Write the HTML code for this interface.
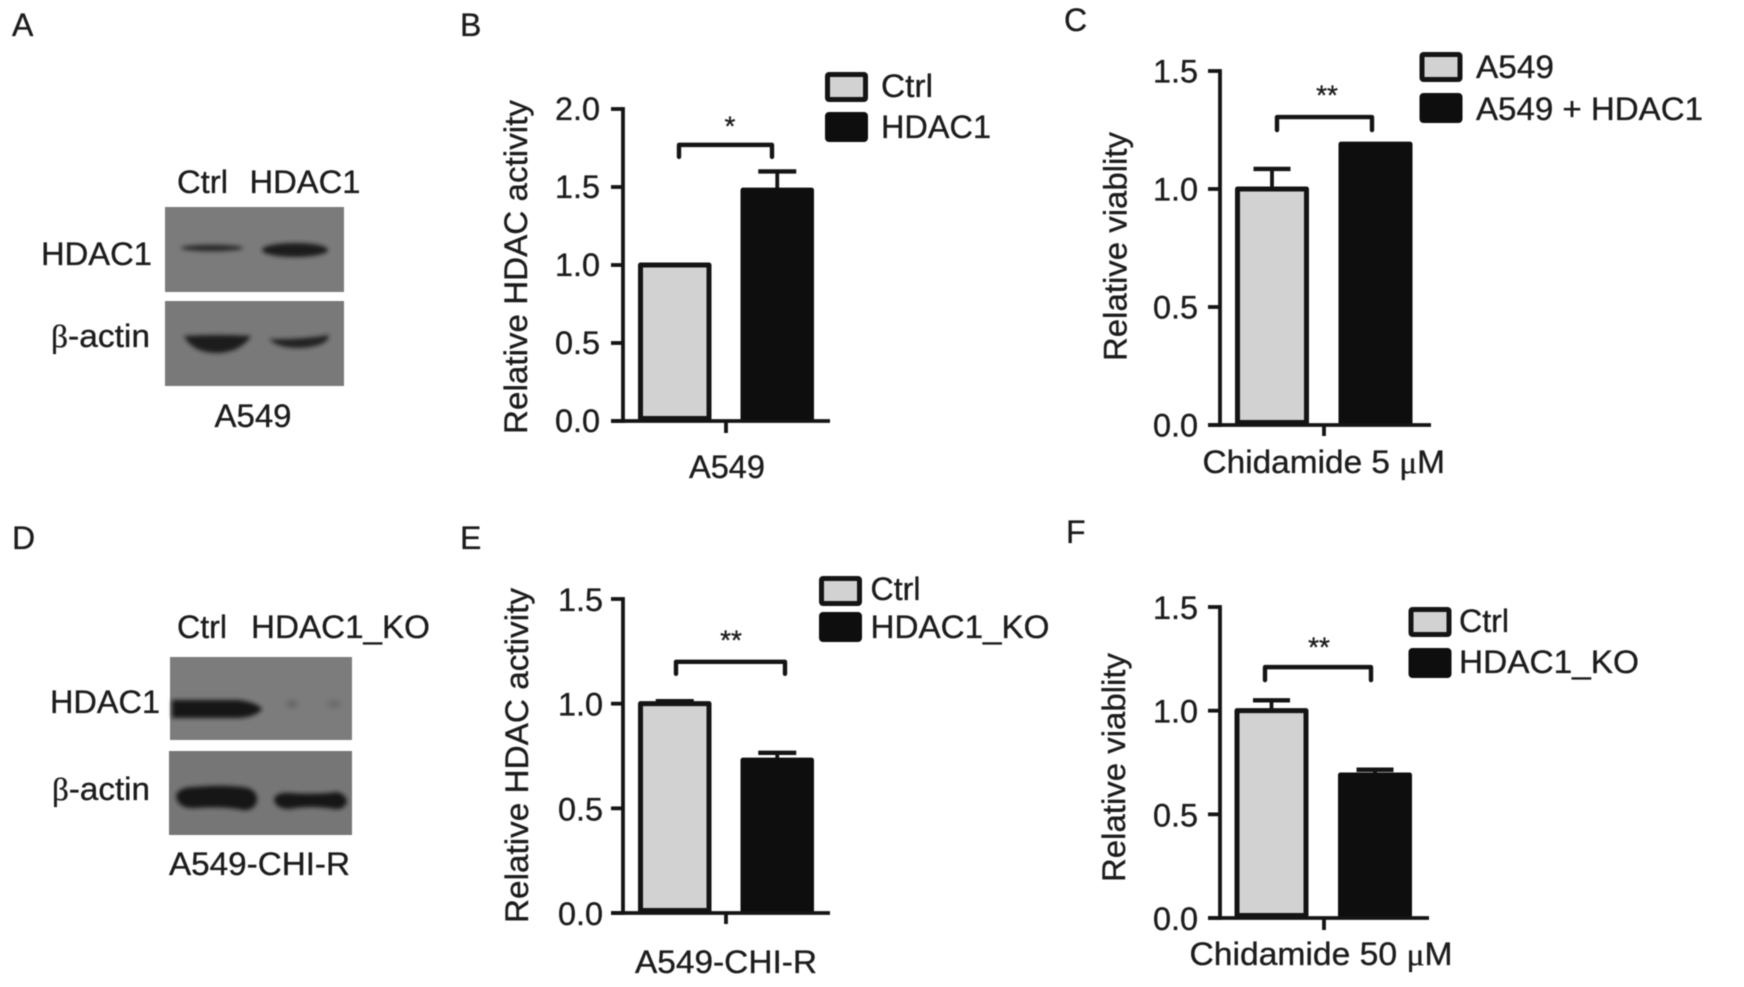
<!DOCTYPE html>
<html lang="en">
<head>
<meta charset="utf-8">
<title>HDAC1 activity and viability figure</title>
<style>
html,body{margin:0;padding:0;background:#fff;width:1744px;height:987px;overflow:hidden}
#figure{position:absolute;left:0;top:0;filter:blur(0.6px)}
text{font-family:"Liberation Sans",sans-serif;fill:#1c1c1c;font-size:32px;stroke:#1c1c1c;stroke-width:0.35px}
.serif{font-family:"Liberation Serif",serif}
</style>
</head>
<body>
<svg id="figure" xmlns="http://www.w3.org/2000/svg" width="1744" height="987" viewBox="0 0 1744 987">
  <defs>
    <filter id="bandBlur" x="-30%" y="-80%" width="160%" height="260%"><feGaussianBlur stdDeviation="2"/></filter>
    <filter id="faintBlur" x="-80%" y="-80%" width="260%" height="260%"><feGaussianBlur stdDeviation="3"/></filter>
  </defs>

  <g>
    <text x="12" y="36">A</text>
    <text x="460" y="36">B</text>
    <text x="1064" y="31">C</text>
    <text x="12" y="549">D</text>
    <text x="460" y="549">E</text>
    <text x="1066" y="543">F</text>
  </g>

  <g>
    <text x="177" y="193" textLength="51" lengthAdjust="spacingAndGlyphs">Ctrl</text>
    <text x="249.5" y="193" textLength="111" lengthAdjust="spacingAndGlyphs">HDAC1</text>
    <text x="41" y="265" textLength="111" lengthAdjust="spacingAndGlyphs">HDAC1</text>
    <text x="51" y="347" textLength="99" lengthAdjust="spacingAndGlyphs"><tspan class="serif">β</tspan>-actin</text>
    <text x="214.5" y="427" textLength="77" lengthAdjust="spacingAndGlyphs">A549</text>
    <rect x="165" y="207" width="179" height="85" fill="#7b7b7b"/>
    <rect x="165" y="301" width="179" height="85" fill="#797979"/>
    <ellipse cx="212" cy="248" rx="31" ry="3.4" fill="#2c2c2c" filter="url(#bandBlur)"/>
    <ellipse cx="295" cy="250" rx="33" ry="7" fill="#1a1a1a" filter="url(#bandBlur)"/>
    <path d="M184 336 Q217 334 251 336 Q240 353 215 353 Q192 352 184 336Z" fill="#1a1a1a" filter="url(#bandBlur)"/>
    <path d="M269 339 Q298 340 329 335 Q328 347 298 348 Q278 348 269 339Z" fill="#222" filter="url(#bandBlur)"/>
  </g>

  <g>
    <text x="177" y="638" textLength="50" lengthAdjust="spacingAndGlyphs">Ctrl</text>
    <text x="251" y="638" textLength="179" lengthAdjust="spacingAndGlyphs">HDAC1_KO</text>
    <text x="50" y="713" textLength="110" lengthAdjust="spacingAndGlyphs">HDAC1</text>
    <text x="52" y="800" textLength="98" lengthAdjust="spacingAndGlyphs"><tspan class="serif">β</tspan>-actin</text>
    <text x="169" y="875" textLength="181" lengthAdjust="spacingAndGlyphs">A549-CHI-R</text>
    <rect x="170" y="657" width="182" height="83" fill="#7c7c7c"/>
    <rect x="169" y="751" width="183" height="84" fill="#767676"/>
    <path d="M172 700 H238 Q256 702 262 709 Q256 717 238 718 H172Z" fill="#171717" filter="url(#bandBlur)"/>
    <ellipse cx="292" cy="704" rx="5" ry="3" fill="#5c5c5c" filter="url(#faintBlur)"/>
    <ellipse cx="334" cy="704" rx="7" ry="3" fill="#666" filter="url(#faintBlur)"/>
    <path d="M176 796 Q178 787 195 787 Q225 784 248 788 Q258 792 257 801 Q254 811 243 810 Q225 806 195 808 Q178 809 176 796Z" fill="#161616" filter="url(#bandBlur)"/>
    <path d="M274 800 Q275 792 290 793 Q315 795 338 792 Q347 796 347 802 Q344 810 335 809 Q310 805 290 809 Q276 809 274 800Z" fill="#181818" filter="url(#bandBlur)"/>
  </g>

  <g id="charts"></g>
</svg>

<script>
const panelBCategories = ['Ctrl', 'HDAC1'];
const panelBValues = [1.0, 1.48];
const panelBErrors = [0.0, 0.12];
const panelBTicks = ['0.0', '0.5', '1.0', '1.5', '2.0'];

const panelCCategories = ['A549', 'A549 + HDAC1'];
const panelCValues = [1.0, 1.19];
const panelCErrors = [0.085, 0.0];
const panelCTicks = ['0.0', '0.5', '1.0', '1.5'];

const panelECategories = ['Ctrl', 'HDAC1_KO'];
const panelEValues = [1.0, 0.73];
const panelEErrors = [0.012, 0.035];
const panelETicks = ['0.0', '0.5', '1.0', '1.5'];

const panelFCategories = ['Ctrl', 'HDAC1_KO'];
const panelFValues = [1.0, 0.69];
const panelFErrors = [0.05, 0.025];
const panelFTicks = ['0.0', '0.5', '1.0', '1.5'];

const panels = [
  {
    id: 'b', categories: panelBCategories, values: panelBValues, errors: panelBErrors, ticks: panelBTicks,
    frame: { axisX: 623, tickLeft: 611, top: 109, bottom: 421, right: 830, xTick: 726, xTickEnd: 433, tickLabelRight: 600, tickLabelDy: 11 },
    bars: { left: 638, width: 73.5, step: 102.5, capWidth: 38 },
    yTitle: { text: 'Relative HDAC activity', x: 527, top: 100, bottom: 434 },
    xTitle: { text: 'A549', left: 689, right: 765, y: 478 },
    bracket: { left: 679, right: 772, value: 1.77, drop: 12, stars: '*', starX: 730, starY: 119 },
    legend: { boxLeft: 825, boxWidth: 43, boxHeight: 30, tops: [72, 112], textX: 881, baselines: [97, 138], widths: [52, 110] }
  },
  {
    id: 'c', categories: panelCCategories, values: panelCValues, errors: panelCErrors, ticks: panelCTicks,
    frame: { axisX: 1220, tickLeft: 1208, top: 71, bottom: 425, right: 1431, xTick: 1324, xTickEnd: 436, tickLabelRight: 1198, tickLabelDy: 11.5 },
    bars: { left: 1235, width: 74, step: 103.5, capWidth: 37 },
    yTitle: { text: 'Relative viablity', x: 1126.5, top: 132, bottom: 361 },
    xTitle: { text: 'Chidamide 5 μM', left: 1202.5, right: 1445, y: 473 },
    bracket: { left: 1277, right: 1372, value: 1.305, drop: 13, stars: '**', starX: 1327, starY: 88 },
    legend: { boxLeft: 1419.5, boxWidth: 43, boxHeight: 30, tops: [52, 93], textX: 1476, baselines: [78, 120], widths: [78, 227] }
  },
  {
    id: 'e', categories: panelECategories, values: panelEValues, errors: panelEErrors, ticks: panelETicks,
    frame: { axisX: 623, tickLeft: 611, top: 599, bottom: 913, right: 830, xTick: 726, xTickEnd: 924, tickLabelRight: 603, tickLabelDy: 12 },
    bars: { left: 638, width: 73.5, step: 102.5, capWidth: 38 },
    yTitle: { text: 'Relative HDAC activity', x: 528, top: 588, bottom: 923 },
    xTitle: { text: 'A549-CHI-R', left: 635, right: 817, y: 973 },
    bracket: { left: 676, right: 785, value: 1.2, drop: 12, stars: '**', starX: 731, starY: 633 },
    legend: { boxLeft: 819, boxWidth: 43, boxHeight: 30, tops: [576, 612], textX: 870.5, baselines: [600, 638], widths: [50, 179] }
  },
  {
    id: 'f', categories: panelFCategories, values: panelFValues, errors: panelFErrors, ticks: panelFTicks,
    frame: { axisX: 1220, tickLeft: 1208, top: 607, bottom: 918, right: 1429, xTick: 1324, xTickEnd: 930, tickLabelRight: 1198, tickLabelDy: 12 },
    bars: { left: 1234.5, width: 74, step: 103.5, capWidth: 37 },
    yTitle: { text: 'Relative viablity', x: 1125, top: 653, bottom: 882 },
    xTitle: { text: 'Chidamide 50 μM', left: 1189.5, right: 1452.5, y: 965 },
    bracket: { left: 1265, right: 1371, value: 1.21, drop: 13, stars: '**', starX: 1319, starY: 640 },
    legend: { boxLeft: 1408.5, boxWidth: 43, boxHeight: 30, tops: [607, 648], textX: 1459, baselines: [632, 673], widths: [50, 180] }
  }
];

const SVG_NS = 'http://www.w3.org/2000/svg';
const INK = '#141414';
const FILLS = ['#d2d2d2', '#0e0e0e'];
const AXIS_W = 3.8;
const BAR_W = 5;

function make(parent, tag, attrs, name) {
  const el = document.createElementNS(SVG_NS, tag);
  for (const key in attrs) el.setAttribute(key, attrs[key]);
  
  
  parent.appendChild(el);
  return el;
}

function line(parent, x1, y1, x2, y2, width, name) {
  return make(parent, 'line', { x1: x1, y1: y1, x2: x2, y2: y2, stroke: INK, 'stroke-width': width }, name);
}

function label(parent, str, attrs, name) {
  const el = make(parent, 'text', attrs, name);
  const parts = str.split('μ');
  el.appendChild(document.createTextNode(parts[0]));
  if (parts.length > 1) {
    const mu = make(el, 'tspan', { class: 'serif' }, 'micro-symbol');
    mu.textContent = 'μ';
    el.appendChild(document.createTextNode(parts[1]));
  }
  return el;
}

function drawPanel(p) {
  const root = document.getElementById('charts');
  const g = make(root, 'g', {}, 'chart-panel-' + p.id);
  const f = p.frame;
  const tickValues = p.ticks.map(Number);
  const yMin = tickValues[0];
  const yMax = tickValues[tickValues.length - 1];
  const yScale = function (v) { return f.bottom - (v - yMin) / (yMax - yMin) * (f.bottom - f.top); };
  const xLeft = function (i) { return p.bars.left + i * p.bars.step; };

  p.values.forEach(function (v, i) {
    const cx = xLeft(i) + p.bars.width / 2;
    const topY = yScale(v);
    if (p.errors[i] > 0) {
      const errY = yScale(v + p.errors[i]);
      line(g, cx, topY, cx, errY, AXIS_W, 'error-bar-' + p.categories[i]);
      line(g, cx - p.bars.capWidth / 2, errY, cx + p.bars.capWidth / 2, errY, AXIS_W + 0.6, 'error-cap-' + p.categories[i]);
    }
    make(g, 'rect', {
      x: xLeft(i) + BAR_W / 2, y: topY,
      width: p.bars.width - BAR_W, height: f.bottom - topY - BAR_W / 2,
      fill: FILLS[i], stroke: i === 0 ? INK : FILLS[1], 'stroke-width': BAR_W, 'stroke-linejoin': 'round'
    }, 'bar-' + p.categories[i]);
  });

  line(g, f.axisX, f.top - AXIS_W / 2, f.axisX, f.bottom + AXIS_W / 2, AXIS_W, 'y-axis');
  line(g, f.tickLeft, f.bottom, f.right, f.bottom, AXIS_W, 'x-axis');
  line(g, f.xTick, f.bottom, f.xTick, f.xTickEnd, AXIS_W, 'x-axis-tick');

  p.ticks.forEach(function (t, i) {
    const y = yScale(tickValues[i]);
    line(g, f.tickLeft, y, f.axisX, y, AXIS_W, 'y-axis-tick-' + t);
    const tickText = label(g, t, { x: f.tickLabelRight, y: y + f.tickLabelDy, 'text-anchor': 'end' }, 'y-tick-label-' + t);
    tickText.setAttribute('textLength', 45);
    tickText.setAttribute('lengthAdjust', 'spacingAndGlyphs');
  });

  const yt = p.yTitle;
  label(g, yt.text, {
    x: 0, y: 0, textLength: yt.bottom - yt.top, lengthAdjust: 'spacingAndGlyphs',
    transform: 'translate(' + yt.x + ' ' + yt.bottom + ') rotate(-90)'
  }, 'y-axis-title');

  const xt = p.xTitle;
  label(g, xt.text, { x: xt.left, y: xt.y, textLength: xt.right - xt.left, lengthAdjust: 'spacingAndGlyphs' }, 'x-axis-title');

  const b = p.bracket;
  const by = yScale(b.value);
  make(g, 'path', {
    d: 'M' + b.left + ' ' + (by + b.drop) + 'V' + by + 'H' + b.right + 'V' + (by + b.drop),
    fill: 'none', stroke: INK, 'stroke-width': 4.4, 'stroke-linejoin': 'round', 'stroke-linecap': 'round'
  }, 'significance-bracket');
  const star = label(g, b.stars, { x: b.starX, y: b.starY + 16.5, 'text-anchor': 'middle' }, 'significance-stars');
  star.style.fontSize = '28px';

  const l = p.legend;
  p.categories.forEach(function (c, i) {
    make(g, 'rect', {
      x: l.boxLeft + BAR_W / 2, y: l.tops[i] + BAR_W / 2,
      width: l.boxWidth - BAR_W, height: l.boxHeight - BAR_W, rx: 1.5,
      fill: FILLS[i], stroke: i === 0 ? INK : FILLS[1], 'stroke-width': BAR_W, 'stroke-linejoin': 'round'
    }, 'legend-swatch-' + c);
    label(g, c, { x: l.textX, y: l.baselines[i], textLength: l.widths[i], lengthAdjust: 'spacingAndGlyphs' }, 'legend-label-' + c);
  });
}

panels.forEach(drawPanel);
</script>
</body>
</html>
